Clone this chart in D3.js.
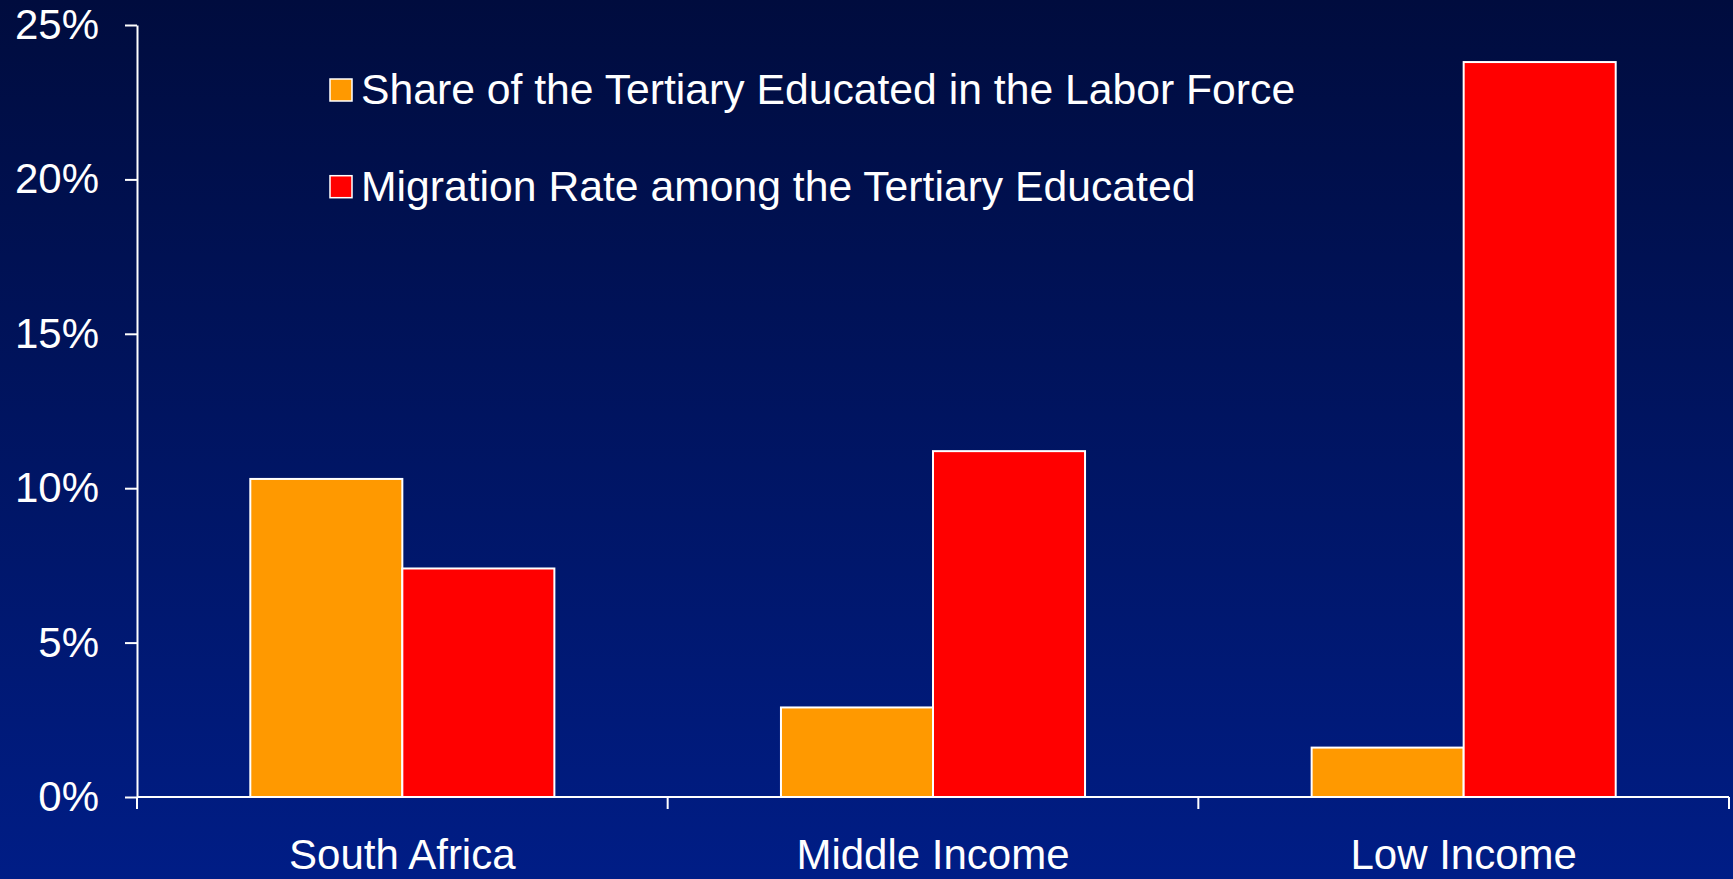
<!DOCTYPE html>
<html>
<head>
<meta charset="utf-8">
<script src="https://cdn.jsdelivr.net/npm/d3@7"></script>
<style>
  html, body { margin: 0; padding: 0; background: #001a7a; }
  svg { display: block; }
  text { font-family: "Liberation Sans", Arial, sans-serif; fill: #ffffff; }
</style>
</head>
<body>
<svg id="chart" width="1733" height="879"></svg>
<script>
// Chart data
const categories = ["South Africa", "Middle Income", "Low Income"];
const seriesNames = [
  "Share of the Tertiary Educated in the Labor Force",
  "Migration Rate among the Tertiary Educated"
];
const shareTertiaryLabor = [0.103, 0.029, 0.016];
const migrationRateTertiary = [0.074, 0.112, 0.238];
const yTickValues = [0, 0.05, 0.10, 0.15, 0.20, 0.25];
const seriesColors = ["#ff9900", "#ff0000"];

const W = 1733, H = 879;
const margin = { top: 25, right: 4, bottom: 82, left: 137 };

const svg = d3.select("#chart");

// Background gradient: dark navy at the top to royal blue at the bottom
const defs = svg.append("defs");
const grad = defs.append("linearGradient")
  .attr("id", "bg").attr("x1", 0).attr("y1", 0).attr("x2", 0).attr("y2", 1);
grad.append("stop").attr("offset", "0%").attr("stop-color", "#000c3e");
grad.append("stop").attr("offset", "100%").attr("stop-color", "#001d86");
svg.append("rect").attr("width", W).attr("height", H).attr("fill", "url(#bg)");

const rows = categories.map((c, i) => ({
  category: c,
  values: [shareTertiaryLabor[i], migrationRateTertiary[i]]
}));

const x0 = d3.scaleBand()
  .domain(categories)
  .range([margin.left, W - margin.right])
  .paddingInner(0).paddingOuter(0);

const groupFrac = 0.573;
const bw = x0.bandwidth();
const x1 = d3.scaleBand()
  .domain(d3.range(seriesNames.length))
  .range([bw * (1 - groupFrac) / 2, bw * (1 + groupFrac) / 2])
  .padding(0);

const y = d3.scaleLinear()
  .domain([0, 0.25])
  .range([H - margin.bottom, margin.top]);

// Bars
const groups = svg.append("g").selectAll("g")
  .data(rows).join("g")
  .attr("transform", d => `translate(${x0(d.category)},0)`);

groups.selectAll("rect")
  .data(d => d.values.map((v, i) => ({ v, i })))
  .join("rect")
  .attr("x", d => x1(d.i))
  .attr("y", d => y(d.v))
  .attr("width", x1.bandwidth())
  .attr("height", d => y(0) - y(d.v))
  .attr("fill", d => seriesColors[d.i])
  .attr("stroke", "#ffffff")
  .attr("stroke-width", 2);

// Y axis
const yAxis = d3.axisLeft(y)
  .tickValues(yTickValues)
  .tickFormat(d3.format(".0%"))
  .tickSize(12)
  .tickSizeOuter(0)
  .tickPadding(26);

const gy = svg.append("g")
  .attr("transform", `translate(${margin.left},0)`)
  .call(yAxis);
gy.select(".domain").attr("stroke", "#ffffff").attr("stroke-width", 2);
gy.selectAll(".tick line").attr("stroke", "#ffffff").attr("stroke-width", 2);
gy.selectAll(".tick text")
  .attr("font-size", 42)
  .attr("fill", "#ffffff")
  .style("font-family", "'Liberation Sans', Arial, sans-serif");

// X axis: baseline with ticks at category boundaries, labels centred in each band
const gx = svg.append("g");
const x0Range = x0.range();
gx.append("line")
  .attr("x1", x0Range[0]).attr("x2", x0Range[1])
  .attr("y1", y(0)).attr("y2", y(0))
  .attr("stroke", "#ffffff").attr("stroke-width", 2);

const boundaries = categories.map(c => x0(c)).concat([x0Range[1]]);
gx.selectAll("line.bound")
  .data(boundaries).join("line")
  .attr("class", "bound")
  .attr("x1", d => d).attr("x2", d => d)
  .attr("y1", y(0)).attr("y2", y(0) + 12)
  .attr("stroke", "#ffffff").attr("stroke-width", 2);

gx.selectAll("text")
  .data(categories).join("text")
  .attr("x", d => x0(d) + bw / 2)
  .attr("y", 869)
  .attr("text-anchor", "middle")
  .attr("font-size", 42)
  .text(d => d);

// Legend
const legend = svg.append("g").attr("transform", "translate(330,79)");
const legendItems = legend.selectAll("g")
  .data(seriesNames).join("g")
  .attr("transform", (d, i) => `translate(0,${i * 96.7})`);
legendItems.append("rect")
  .attr("width", 22).attr("height", 22)
  .attr("fill", (d, i) => seriesColors[i])
  .attr("stroke", "#ffffff").attr("stroke-width", 1.5);
legendItems.append("text")
  .attr("x", 31).attr("y", 25)
  .attr("font-size", 42.7)
  .text(d => d);
</script>
</body>
</html>
